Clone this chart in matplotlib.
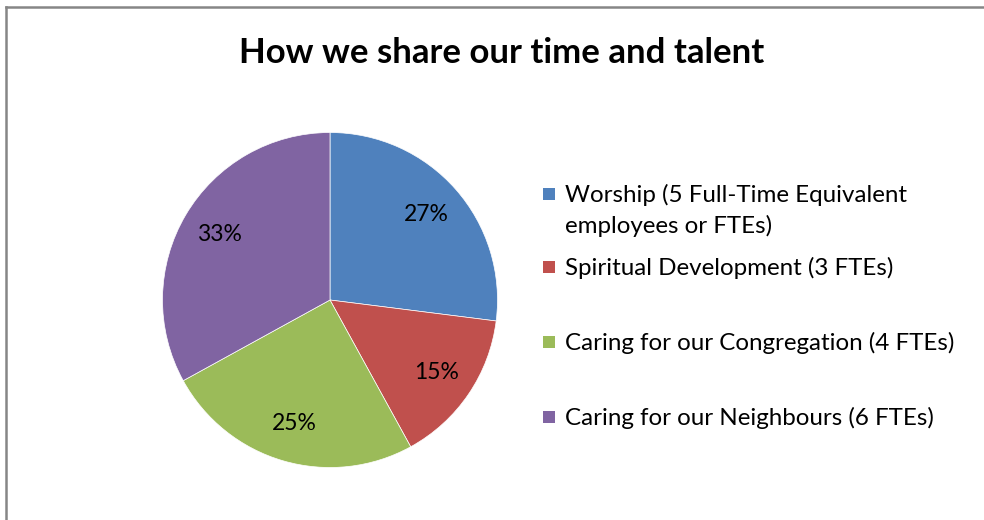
import matplotlib
matplotlib.use("Agg")
import matplotlib.pyplot as plt
from matplotlib.patches import Rectangle
from matplotlib.lines import Line2D

FONT = ["Lato", "DejaVu Sans"]
plt.rcParams["font.family"] = FONT

title = "How we share our time and talent"
categories = [
    "Worship (5 Full-Time Equivalent\nemployees or FTEs)",
    "Spiritual Development (3 FTEs)",
    "Caring for our Congregation (4 FTEs)",
    "Caring for our Neighbours (6 FTEs)",
]
shares = [27, 15, 25, 33]
colors = ["#4F81BD", "#C0504D", "#9BBB59", "#8064A2"]

W, H = 984, 520
fig = plt.figure(figsize=(W / 100, H / 100), dpi=100)
fig.patch.set_facecolor("white")

# chart border (only left and top edges are visible in the crop)
fig.add_artist(Line2D([5.5 / W, 5.5 / W], [0, 1 - 6.5 / H],
                      color="#868686", lw=1.8, transform=fig.transFigure))
fig.add_artist(Line2D([5.5 / W, 1], [1 - 6.5 / H, 1 - 6.5 / H],
                      color="#868686", lw=1.8, transform=fig.transFigure))

# pie
cx, cy, r = 330, 300, 167.5
ax = fig.add_axes([(cx - r) / W, (H - cy - r) / H, 2 * r / W, 2 * r / H])
wedges, _, autotexts = ax.pie(
    shares, colors=colors, startangle=90, counterclock=False,
    autopct="%1.0f%%", pctdistance=0.77,
    wedgeprops=dict(edgecolor="white", linewidth=0.5),
)
for t in autotexts:
    t.set_fontsize(16.5)
    t.set_color("black")
ax.set_xlim(-1, 1)
ax.set_ylim(-1, 1)
ax.axis("off")

fig.text(502 / W, 1 - 63 / H, title, ha="center", va="baseline",
         fontsize=25, fontweight="bold")

# legend, placed like the original
baselines = [202, 275, 350, 425]
for label, color, base in zip(categories, colors, baselines):
    fig.add_artist(Rectangle((543 / W, 1 - (base - 2) / H), 12 / W, 12 / H,
                             facecolor=color, edgecolor="none",
                             transform=fig.transFigure))
    lines = label.split("\n")
    for i, line in enumerate(lines):
        fig.text(565 / W, 1 - (base + 31 * i) / H, line, ha="left",
                 va="baseline", fontsize=17.4)

fig.savefig("out.png", dpi=100)
